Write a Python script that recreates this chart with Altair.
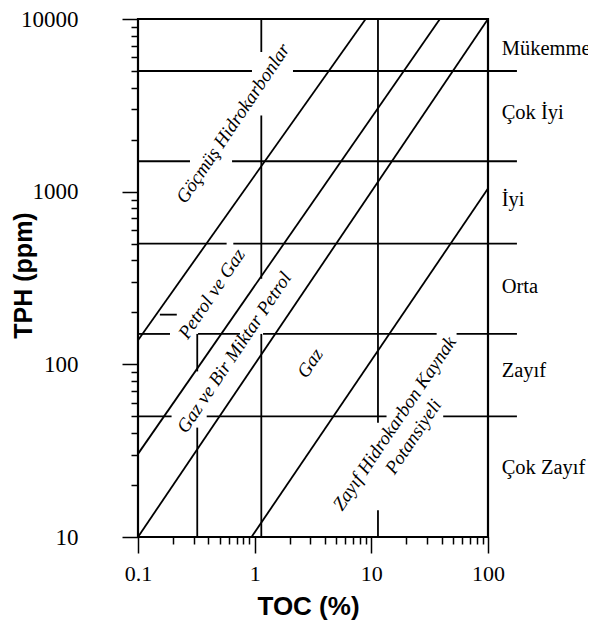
import altair as alt
import pandas as pd

# ---- axis ticks ----
toc_ticks = [0.1, 0.2, 0.3, 0.4, 0.5, 0.6, 0.7, 0.8, 0.9,
             1, 2, 3, 4, 5, 6, 7, 8, 9,
             10, 20, 30, 40, 50, 60, 70, 80, 90, 100]
tph_ticks = [10, 20, 30, 40, 50, 60, 70, 80, 90,
             100, 200, 300, 400, 500, 600, 700, 800, 900,
             1000, 2000, 3000, 4000, 5000, 6000, 7000, 8000, 9000, 10000]

# ---- horizontal class boundaries (with gaps for labels) ----
h_y = [5000, 5000, 1500, 1500, 500, 500, 150, 150, 150, 150, 50, 50, 50]
h_x1 = [0.1, 2.13, 0.1, 0.64, 0.1, 0.656, 0.1, 0.327, 1.18, 53.8, 0.1, 0.388, 41.3]
h_x2 = [0.948, 177, 0.279, 177, 0.575, 177, 0.188, 0.748, 36.3, 177, 0.194, 13.5, 177]

# ---- vertical lines ----
v_x = [1.14, 1.14, 1.14, 11.4, 11.4, 0.322, 0.322]
v_ylo = [6440, 313, 10, 45.9, 10, 91, 10]
v_yhi = [10000, 2762, 150, 10000, 14.3, 150, 43]

# ---- short mark ----
s_x1 = [0.154]
s_x2 = [0.215]
s_y = [194]

# ---- diagonal lines ----
d_x1 = [0.1, 0.1, 0.1, 0.94]
d_y1 = [138, 30.3, 10, 10]
d_x2 = [8.94, 38.7, 100, 100]
d_y2 = [10000, 10000, 10000, 1043]

# ---- zone labels (rotated) ----
z_text = ["Göçmüş Hidrokarbonlar", "Petrol ve Gaz", "Gaz ve Bir Miktar Petrol",
          "Gaz", "Zayıf Hidrokarbon Kaynak", "Potansiyeli"]
z_x = [0.652, 0.428, 0.667, 2.98, 15.8, 22.9]
z_y = [2485, 256, 117, 101.6, 45.5, 38.1]

# ---- class labels (right side) ----
c_text = ["Mükemmel", "Çok İyi", "İyi", "Orta", "Zayıf", "Çok Zayıf"]
c_x = [131, 131, 131, 131, 131, 131]
c_y = [6700, 2840, 898, 280, 91, 25.2]

hdf = pd.DataFrame({"x1": h_x1, "x2": h_x2, "y": h_y})
vdf = pd.DataFrame({"x": v_x, "y1": v_ylo, "y2": v_yhi})
sdf = pd.DataFrame({"x1": s_x1, "x2": s_x2, "y": s_y})
ddf = pd.DataFrame({"x1": d_x1, "y1": d_y1, "x2": d_x2, "y2": d_y2})
zdf = pd.DataFrame({"x": z_x, "y": z_y, "t": z_text})
cdf = pd.DataFrame({"x": c_x, "y": c_y, "t": c_text})

xs = alt.Scale(type="log", domain=[0.1, 100], nice=False)
ys = alt.Scale(type="log", domain=[10, 10000], nice=False)

major = "abs(log(datum.value)/LN10 - round(log(datum.value)/LN10)) < 0.001"

xaxis = alt.Axis(
    values=toc_ticks, grid=False, domain=False,
    tickSize={"condition": {"test": major, "value": 16}, "value": 7},
    tickColor="black", tickWidth=1.5,
    labelExpr=f"({major}) ? format(datum.value, '~g') : ''",
    labelFont="Liberation Serif", labelFontSize=22, labelColor="black",
    labelFlush=False, labelOverlap=False, labelPadding=10,
    title="TOC (%)", titleFont="Liberation Sans", titleFontSize=26,
    titleFontWeight="bold", titleColor="black",
    titleX=170, titleY=69, titleAlign="center", titleBaseline="middle",
)
yaxis = alt.Axis(
    values=tph_ticks, grid=False, domain=False,
    tickSize={"condition": {"test": major, "value": 16}, "value": 7},
    tickColor="black", tickWidth=1.5,
    labelExpr=f"({major}) ? format(datum.value, '~g') : ''",
    labelFont="Liberation Serif", labelFontSize=23, labelColor="black",
    labelFlush=False, labelOverlap=False, labelPadding=44,
    title="TPH (ppm)", titleFont="Liberation Sans", titleFontSize=25,
    titleFontWeight="bold", titleColor="black",
    titleAngle=270, titleX=-115, titleY=256, titleAlign="center",
    titleBaseline="middle",
)

LW = 1.8


def X(field):
    return alt.X(field, type="quantitative", scale=xs, axis=xaxis)


def Y(field):
    return alt.Y(field, type="quantitative", scale=ys, axis=yaxis)


h = alt.Chart(hdf).mark_rule(color="black", strokeWidth=LW).encode(
    x=X("x1"), x2="x2:Q", y=Y("y"),
)
v = alt.Chart(vdf).mark_rule(color="black", strokeWidth=LW).encode(
    x=X("x"), y=Y("y1"), y2="y2:Q",
)
s = alt.Chart(sdf).mark_rule(color="black", strokeWidth=LW).encode(
    x=X("x1"), x2="x2:Q", y=Y("y"),
)
d = alt.Chart(ddf).mark_rule(color="black", strokeWidth=LW).encode(
    x=X("x1"), x2="x2:Q", y=Y("y1"), y2="y2:Q",
)
z = alt.Chart(zdf).mark_text(
    angle=304, font="Liberation Serif", fontStyle="italic", fontSize=19,
    color="black", align="center", baseline="middle",
).encode(x=X("x"), y=Y("y"), text="t:N")
c = alt.Chart(cdf).mark_text(
    font="Liberation Serif", fontSize=20.5, color="black",
    align="left", baseline="middle",
).encode(x=X("x"), y=Y("y"), text="t:N")

chart = alt.layer(h, v, s, d, z, c).properties(
    width=350, height=518,
    autosize=alt.AutoSizeParams(type="none"),
    padding={"left": 130, "top": 11, "right": 100, "bottom": 83},
).configure_view(stroke="black", strokeWidth=2.2)

chart.save("out.html", embed_options={"renderer": "svg", "actions": False})
